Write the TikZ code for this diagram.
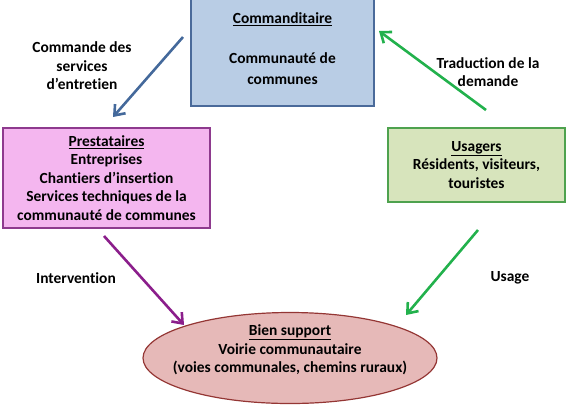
\documentclass[tikz,border=0pt]{standalone}
\usepackage{fontspec}
\setmainfont{Carlito}[Ligatures=NoCommon]
\usetikzlibrary{arrows.meta,shapes.geometric}
\definecolor{bluefill}{HTML}{B9CDE5}
\definecolor{bluedraw}{HTML}{4A6A9A}
\definecolor{pinkfill}{HTML}{F4B6EF}
\definecolor{pinkdraw}{HTML}{8E3A8E}
\definecolor{greenfill}{HTML}{D7E4BC}
\definecolor{greendraw}{HTML}{4EA24E}
\definecolor{redfill}{HTML}{E6B9B8}
\definecolor{reddraw}{HTML}{943634}
\definecolor{arrowblue}{HTML}{44699B}
\definecolor{arrowgreen}{HTML}{22B14C}
\definecolor{arrowpurple}{HTML}{8B1E8B}
\tikzstyle{txt}=[align=center, font=\fontsize{15.5}{18.5}\selectfont\bfseries, inner sep=0pt]
\tikzstyle{boxblue}=[txt, draw=bluedraw, fill=bluefill, line width=1.2pt]
\tikzstyle{boxpink}=[txt, draw=pinkdraw, fill=pinkfill, line width=1.2pt]
\tikzstyle{boxgreen}=[txt, draw=greendraw, fill=greenfill, line width=1.2pt]
\tikzstyle{ellred}=[txt, ellipse, draw=reddraw, fill=redfill, line width=1.2pt, inner xsep=-17bp, inner ysep=-12bp]
\tikzstyle{arrow}=[line width=2.6pt, -{Straight Barb[length=9bp, width=14bp]}]

\begin{document}
\begin{tikzpicture}[x=1bp, y=-1bp]
  \useasboundingbox (0,0) rectangle (567,407);
  \begin{scope}
    \node (cmd) at (282.5,48.5)[boxblue, minimum width=183bp, minimum height=115bp] {
      \underline{Commanditaire}\\[22bp]
      Communauté de\\[2bp]
      communes
    };
    \node (prest) at (106.5,178)[boxpink, minimum width=207bp, minimum height=100bp] {
      \underline{Prestataires}\\
      Entreprises\\
      Chantiers d’insertion\\
      Services techniques de la\\
      communauté de communes
    };
    \node (usag) at (476.5,165)[boxgreen, minimum width=177bp, minimum height=74bp] {
      \underline{Usagers}\\
      Résidents, visiteurs,\\
      touristes
    };
    \node (bien) at (290,358)[ellred, minimum width=294bp, minimum height=91bp] {
      \underline{Bien support}\\
      Voirie communautaire\\
      (voies communales, chemins ruraux)\\
    };
    \node (l1) at (82,66)[txt] {Commande des\\services\\d’entretien};
    \node (l2) at (488,72)[txt] {Traduction de la\\demande};
    \node (l3) at (76,278)[txt] {Intervention};
    \node (l4) at (510,278)[txt] {Usage};
  \end{scope}
  \begin{scope}
    \coordinate (a1) at (183,37);
    \coordinate (b1) at (113,117);
    \coordinate (a2) at (486,110);
    \coordinate (b2) at (379,31);
    \coordinate (a3) at (104,236);
    \coordinate (b3) at (184,325);
    \coordinate (a4) at (478,230);
    \coordinate (b4) at (406,315);
    \draw [arrow, arrowblue] (a1) -- (b1);
    \draw [arrow, arrowgreen] (a2) -- (b2);
    \draw [arrow, arrowpurple] (a3) -- (b3);
    \draw [arrow, arrowgreen] (a4) -- (b4);
  \end{scope}
\end{tikzpicture}
\end{document}
